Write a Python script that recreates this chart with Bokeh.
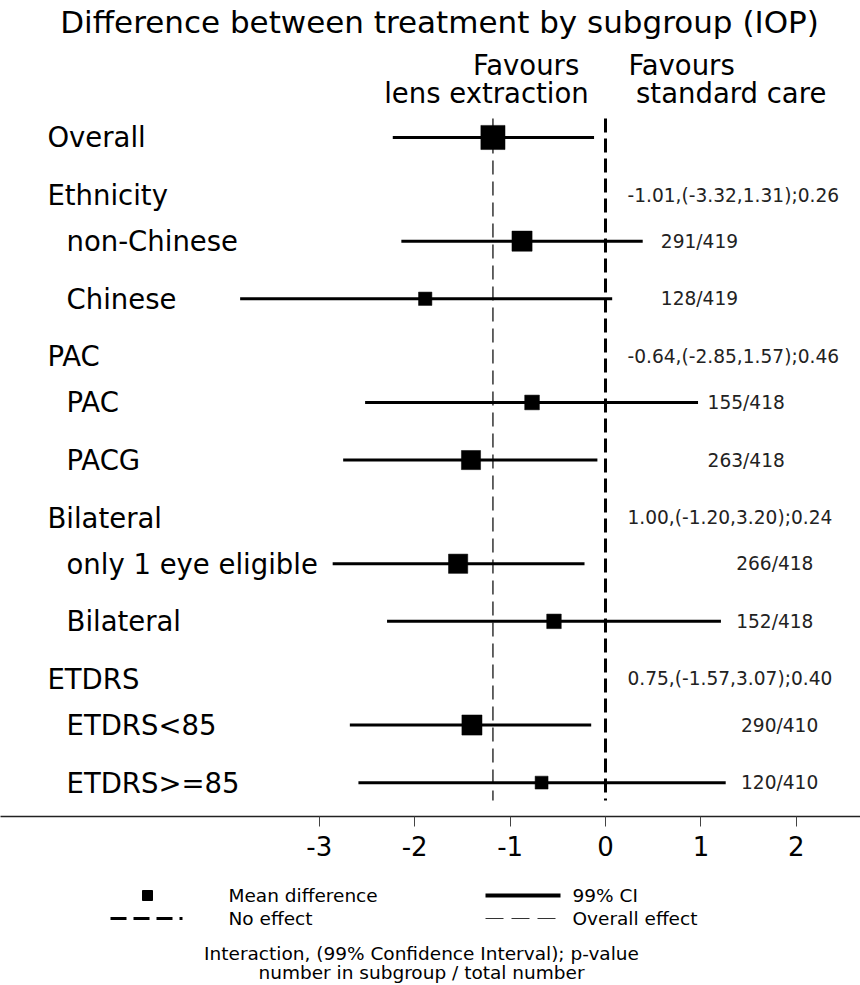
import numpy as np
from bokeh.plotting import figure
from bokeh.layouts import column
from bokeh.models import Range1d, LinearAxis, FixedTicker, ColumnDataSource
from bokeh.core.properties import value
from bokeh.embed import file_html
from bokeh.resources import INLINE

# ---------------- data ----------------
title_text = "Difference between treatment by subgroup (IOP)"
overall_label = "Overall"
overall_mean = -1.18
overall_lo = -2.23
overall_hi = -0.12
overall_n = 419

group_labels = ["Ethnicity", "PAC", "Bilateral", "ETDRS"]
group_interaction = ["-1.01,(-3.32,1.31);0.26", "-0.64,(-2.85,1.57);0.46",
                     "1.00,(-1.20,3.20);0.24", "0.75,(-1.57,3.07);0.40"]
group_total = [419, 418, 418, 410]

sub_labels = ["non-Chinese", "Chinese", "PAC", "PACG",
              "only 1 eye eligible", "Bilateral", "ETDRS<85", "ETDRS>=85"]
sub_group = [0, 0, 1, 1, 2, 2, 3, 3]
sub_mean = [-0.875, -1.89, -0.77, -1.41, -1.545, -0.54, -1.40, -0.67]
sub_lo = [-2.14, -3.83, -2.52, -2.75, -2.86, -2.29, -2.68, -2.59]
sub_hi = [0.39, 0.07, 0.97, -0.085, -0.22, 1.21, -0.15, 1.26]
sub_n = [291, 128, 155, 263, 266, 152, 290, 120]

x_ticks = [-3, -2, -1, 0, 1, 2]

# ---------------- layout ----------------
FONT = value("DejaVu Sans")
W = 860
FRAME_H = 816
AXIS_H = 55
LEG_H = 113

# row slots: overall at 0, each group header then its subgroups
group_slot = [1.0 + 2.8 * g for g in range(len(group_labels))]
sub_slot = []
count = {}
for g in sub_group:
    j = count.get(g, 0)
    sub_slot.append(group_slot[g] + 0.8 + j)
    count[g] = j + 1

n_text_x = [0.58, 1.07, 1.37, 1.42]   # per group, left edge of "n/total"
inter_x = 0.23
head_x = -5.85
sub_x = -5.65

p = figure(width=W, height=FRAME_H + AXIS_H, output_backend="svg",
           toolbar_location=None, x_axis_type=None, y_axis_type=None,
           x_range=Range1d(-6.342, 2.673), y_range=Range1d(11.788, -2.378),
           min_border_left=0, min_border_right=0, min_border_top=0,
           min_border_bottom=AXIS_H, outline_line_color=None,
           background_fill_color="white", border_fill_color="white")
p.xgrid.visible = False
p.ygrid.visible = False

ax = LinearAxis(ticker=FixedTicker(ticks=x_ticks))
ax.major_label_overrides = {t: str(t) for t in x_ticks}
ax.axis_line_color = "#222222"
ax.axis_line_width = 1.3
ax.major_tick_line_color = "#444444"
ax.major_tick_out = 10
ax.major_tick_in = 0
ax.minor_tick_line_color = None
ax.major_label_standoff = 9
ax.major_label_text_font = "DejaVu Sans"
ax.major_label_text_font_size = "26px"
ax.major_label_text_color = "black"
p.add_layout(ax, "below")

# reference lines
p.segment(x0=[0], y0=[-0.33], x1=[0], y1=[11.51], line_color="black",
          line_width=3, line_dash="14 6")
p.segment(x0=[overall_mean], y0=[-0.33], x1=[overall_mean], y1=[11.51],
          line_color="#333333", line_width=1.5, line_dash="14 7")

# CI lines and squares
all_mean = [overall_mean] + sub_mean
all_lo = [overall_lo] + sub_lo
all_hi = [overall_hi] + sub_hi
all_n = [overall_n] + sub_n
all_y = [0.0] + sub_slot
src = ColumnDataSource(dict(m=all_mean, lo=all_lo, hi=all_hi, y=all_y,
                            s=[1.18 * np.sqrt(n) for n in all_n]))
p.segment(x0="lo", y0="y", x1="hi", y1="y", source=src, line_color="black",
          line_width=3)
p.scatter(x="m", y="y", size="s", source=src, marker="square",
          fill_color="black", line_color="black", line_width=0.5)

# labels
p.text(x=[head_x], y=[0.0], text=[overall_label], text_font=FONT,
       text_font_size=value("27.5px"), text_baseline="middle", text_color="black")
p.text(x=[head_x] * len(group_labels), y=group_slot, text=group_labels,
       text_font=FONT, text_font_size=value("27.5px"), text_baseline="middle",
       text_color="black")
p.text(x=[sub_x] * len(sub_labels), y=sub_slot, text=sub_labels,
       text_font=FONT, text_font_size=value("27.5px"), text_baseline="middle",
       text_color="black")
p.text(x=[inter_x] * len(group_interaction), y=group_slot,
       text=group_interaction, text_font=FONT, text_font_size=value("18.6px"),
       text_baseline="middle", text_color="#222222")
p.text(x=[n_text_x[g] for g in sub_group], y=sub_slot,
       text=[f"{n}/{group_total[g]}" for n, g in zip(sub_n, sub_group)],
       text_font=FONT, text_font_size=value("18.6px"), text_baseline="middle",
       text_color="#222222")

# title and favour headers
p.text(x=[-1.74], y=[-2.0], text=[title_text], text_font=FONT,
       text_font_size=value("31px"), text_baseline="middle",
       text_align="center", text_color="black")
p.text(x=[-1.39, -2.32, 0.24, 0.32], y=[-1.25, -0.764, -1.25, -0.764],
       text=["Favours", "lens extraction", "Favours", "standard care"],
       text_font=FONT, text_font_size=value("27.5px"), text_baseline="middle",
       text_color="black")

# ---------------- legend / footer (page pixel coordinates) ----------------
top = FRAME_H + AXIS_H
q = figure(width=W, height=LEG_H, output_backend="svg", toolbar_location=None,
           x_axis_type=None, y_axis_type=None,
           x_range=Range1d(0, W), y_range=Range1d(top + LEG_H, top),
           min_border=0, outline_line_color=None)
q.xgrid.visible = False
q.ygrid.visible = False

q.scatter(x=[147], y=[895], size=10, marker="square", color="black")
q.segment(x0=[485], y0=[895], x1=[560], y1=[895], line_color="black", line_width=4)
q.segment(x0=[110], y0=[918], x1=[182], y1=[918], line_color="black",
          line_width=3, line_dash="16 7")
q.segment(x0=[485], y0=[918], x1=[560], y1=[918], line_color="#333333",
          line_width=1, line_dash="18 8")
q.text(x=[228, 572, 228, 572], y=[895, 895, 918, 918],
       text=["Mean difference", "99% CI", "No effect", "Overall effect"],
       text_font=FONT, text_font_size=value("18.5px"), text_baseline="middle",
       text_color="black")
q.text(x=[421, 421], y=[953, 972],
       text=["Interaction, (99% Confidence Interval); p-value",
             "number in subgroup / total number"],
       text_font=FONT, text_font_size=value("18.5px"), text_baseline="middle",
       text_align="center", text_color="black")

layout = column(p, q, spacing=0)
open("out.html", "w").write(file_html(layout, INLINE))
